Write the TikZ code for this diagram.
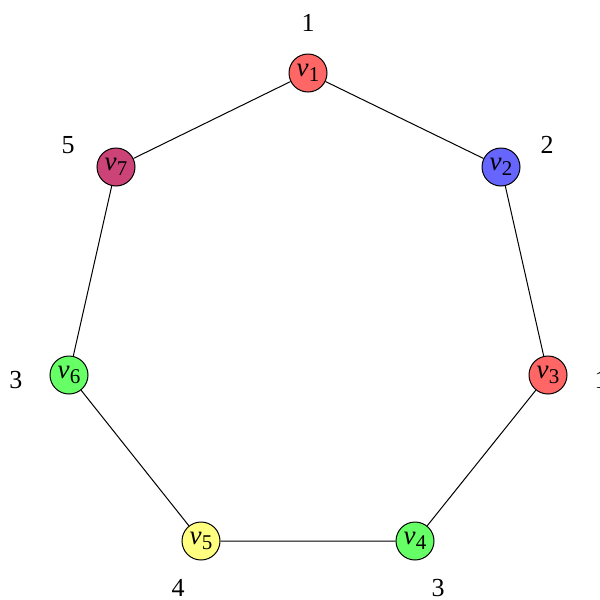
\documentclass[tikz,border=0pt]{standalone}
\usepackage{fontspec}
\setmainfont{Liberation Serif}
\definecolor{cred}{RGB}{255,102,102}
\definecolor{cblue}{RGB}{102,102,255}
\definecolor{cgreen}{RGB}{102,255,102}
\definecolor{cyellow}{RGB}{255,255,128}
\definecolor{cplum}{RGB}{204,68,119}
\newcommand{\vx}[1]{\textit{v}\kern0.2pt\raisebox{-2.6pt}{\fontsize{10.5}{12}\selectfont #1}}
\begin{document}
\begin{tikzpicture}[x=0.5pt,y=-0.5pt,
  vert/.style={circle, draw=black, line width=0.5pt, minimum size=19pt, inner sep=0pt, font=\fontsize{13.5}{15}\selectfont},
  clr/.style={inner sep=0pt, font=\fontsize{13}{15}\selectfont},
  edge/.style={line width=0.5pt, black}]
\useasboundingbox (0,0) rectangle (600,600);
\node[vert, fill=cred] (v1) at (308,73) {\vx{1}};
\node[vert, fill=cblue] (v2) at (501,167) {\vx{2}};
\node[vert, fill=cred] (v3) at (548,375) {\vx{3}};
\node[vert, fill=cgreen] (v4) at (415,541) {\vx{4}};
\node[vert, fill=cyellow] (v5) at (201,541) {\vx{5}};
\node[vert, fill=cgreen] (v6) at (69,375) {\vx{6}};
\node[vert, fill=cplum] (v7) at (116,167) {\vx{7}};
\draw[edge] (v1) -- (v2) -- (v3) -- (v4) -- (v5) -- (v6) -- (v7) -- (v1);
\node[clr] (c1) at (308,23) {1};
\node[clr] (c2) at (547,145) {2};
\node[clr] (c3) at (601,380) {1};
\node[clr] (c4) at (438,588) {3};
\node[clr] (c5) at (178,588) {4};
\node[clr] (c6) at (16,380) {3};
\node[clr] (c7) at (68,145) {5};
\end{tikzpicture}
\end{document}
